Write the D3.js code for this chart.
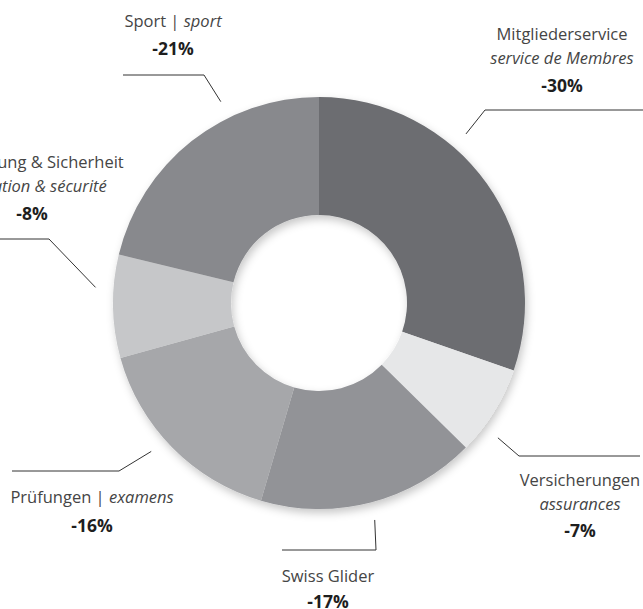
<!DOCTYPE html>
<html>
<head>
<meta charset="utf-8">
<script src="https://cdn.jsdelivr.net/npm/d3@7"></script>
<style>
  html, body { margin: 0; padding: 0; background: #fff; }
  svg { display: block; }
  .lbl { font-family: "Open Sans", sans-serif; font-size: 16.5px; fill: #454545; font-weight: 400; }
  .pct { font-family: "Open Sans", sans-serif; font-size: 17.5px; fill: #1e1e1e; font-weight: 700; }
</style>
</head>
<body>
<script>
/* chart data */
const categories = ["Mitgliederservice", "Versicherungen", "Swiss Glider", "Prüfungen", "Ausbildung & Sicherheit", "Sport"];
const categoriesFr = ["service de Membres", "assurances", "", "examens", "formation & sécurité", "sport"];
const values = [30, 7, 17, 16, 8, 21];
const valueLabels = ["-30%", "-7%", "-17%", "-16%", "-8%", "-21%"];
const colors = ["#6c6d71", "#e6e7e8", "#929397", "#a6a7aa", "#c6c7c9", "#88898d"];

/* label placement (layout only) */
const labelLayout = [
    { angle: 41,    elbow: [485, 110], end: [643, 110], x: 562, y: 40,  gap: 28, inline: false },
    { angle: 127,   elbow: [519, 456], end: [640, 456], x: 580, y: 486, gap: 27, inline: false },
    { angle: 165.6, elbow: [376, 550], end: [282, 550], x: 328, y: 582, gap: 26, inline: false },
    { angle: 228.5, elbow: [119, 471], end: [12, 471],  x: 92,  y: 503, gap: 29, inline: true },
    { angle: 274,   elbow: [49, 239],  end: [0, 239],   x: 32,  y: 168, gap: 28, inline: false },
    { angle: 334,   elbow: [204, 75],  end: [123, 75],  x: 173, y: 27,  gap: 28, inline: true }
];

const width = 643, height = 609;
const cx = 319, cy = 303;
const outerR = 206, innerR = 88;

const svg = d3.select("body").append("svg")
    .attr("width", width)
    .attr("height", height);

/* soft shadow round the donut */
const defs = svg.append("defs");
const shadow = defs.append("filter")
    .attr("id", "shadow")
    .attr("x", "-20%").attr("y", "-20%")
    .attr("width", "140%").attr("height", "140%");
shadow.append("feDropShadow")
    .attr("dx", 2).attr("dy", 4)
    .attr("stdDeviation", 4)
    .attr("flood-color", "#000")
    .attr("flood-opacity", 0.22);

const pie = d3.pie().sort(null).value(d => d);
const arc = d3.arc().innerRadius(innerR).outerRadius(outerR);
const arcs = pie(values);

const g = svg.append("g")
    .attr("transform", "translate(" + cx + "," + cy + ")");

const ring = g.append("g").attr("filter", "url(#shadow)");
ring.selectAll(".slice")
    .data(arcs)
    .enter()
    .append("path")
    .attr("class", "slice")
    .attr("d", arc)
    .style("fill", (d, i) => colors[i]);

/* leader lines */
svg.selectAll(".leader")
    .data(labelLayout)
    .enter()
    .append("polyline")
    .attr("class", "leader")
    .attr("points", d => {
        const p = d3.pointRadial(d.angle * Math.PI / 180, outerR + 18);
        return [[cx + p[0], cy + p[1]], d.elbow, d.end].map(q => q.join(",")).join(" ");
    })
    .style("fill", "none")
    .style("stroke", "#333")
    .style("stroke-width", 1);

/* labels */
labelLayout.forEach((d, i) => {
    const t = svg.append("g");
    let y = d.y;
    const first = t.append("text")
        .attr("class", "lbl")
        .attr("x", d.x).attr("y", y)
        .attr("text-anchor", "middle");
    first.append("tspan").text(categories[i]);
    if (categoriesFr[i] && d.inline) {
        first.append("tspan").text(" | ");
        first.append("tspan").style("font-style", "italic").text(categoriesFr[i]);
    } else if (categoriesFr[i]) {
        y += 24;
        t.append("text")
            .attr("class", "lbl")
            .attr("x", d.x).attr("y", y)
            .attr("text-anchor", "middle")
            .style("font-style", "italic")
            .text(categoriesFr[i]);
    }
    t.append("text")
        .attr("class", "pct")
        .attr("x", d.x).attr("y", y + d.gap)
        .attr("text-anchor", "middle")
        .text(valueLabels[i]);
});
</script>
</body>
</html>
